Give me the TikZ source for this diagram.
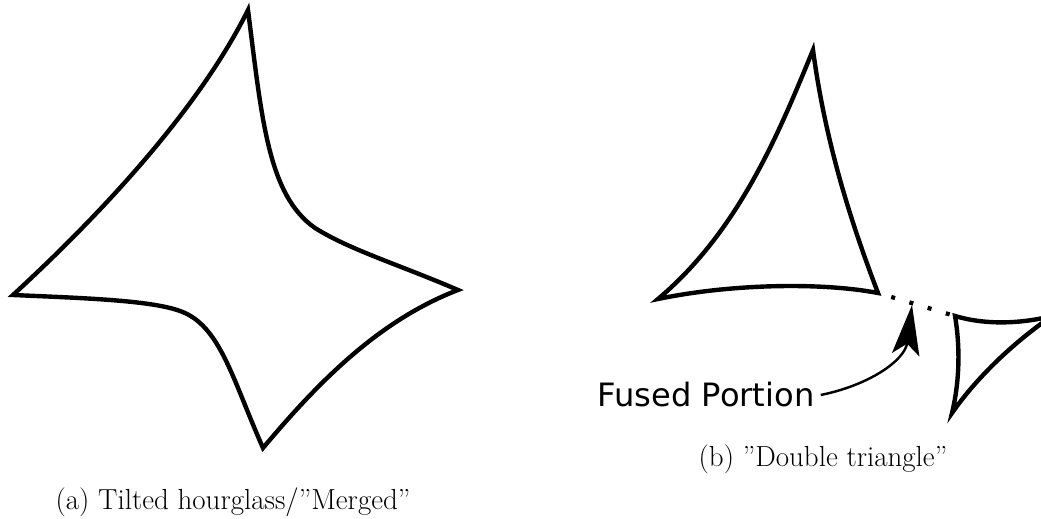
\documentclass[tikz,border=0pt]{standalone}
\usepackage{fontspec}
\usepackage{tikz}
\usetikzlibrary{arrows.meta,positioning}
\newfontfamily\labelfont{DejaVu Sans}
\tikzset{
  outline/.style  = {draw=black, line width=2.5pt, line join=miter},
  fusedots/.style = {draw=black, line width=2.4pt,
                     dash pattern=on 0.08cm off 0.3cm, dash phase=0.104cm},
  pointer/.style  = {draw=black, line width=1.4pt,
                     -{Stealth[length=1cm, width=0.55cm, inset=0.22cm]}},
  capt/.style     = {font=\fontsize{16.5}{20}\selectfont, inner sep=0pt},
  callout/.style  = {font=\labelfont\fontsize{18.3}{22}\selectfont},
}

\begin{document}
\begin{tikzpicture}[x=0.02cm, y=-0.02cm]
  \path[use as bounding box] (0,0) rectangle (1041,519);
  \clip (0,0) rectangle (1041,519);

  % (a) merged shape
  \draw[outline] (248,10) coordinate (hTop)
    .. controls (262,120) and (268,195) .. (315,228)
    .. controls (350,250) and (400,265) .. (458,290) coordinate (hRight)
    .. controls (380,320) and (320,380) .. (263,448) coordinate (hBot)
    .. controls (232,378) and (220,325) .. (180,311)
    .. controls (150,300) and (80,298) .. (13,295) coordinate (hLeft)
    .. controls (76,237) and (192,123) .. cycle;
  \node[capt] (capA) at (233,502) {(a) Tilted hourglass/”Merged”};

  % (b) two triangles
  \draw[outline] (813,50) coordinate (tTop)
    .. controls (780,130) and (740,230) .. (658,299) coordinate (tLeft)
    .. controls (730,284) and (820,282) .. (878,293) coordinate (tRight)
    .. controls (850,220) and (825,140) .. cycle;
  \draw[outline] (955,316) coordinate (sTop)
    .. controls (985,325) and (1020,324) .. (1052,316) coordinate (sRight)
    .. controls (1010,345) and (975,380) .. (952,413) coordinate (sBot)
    .. controls (960,380) and (960,345) .. cycle;
  \draw[fusedots] (tRight) -- (sTop);

  \node[callout] (fused) at (706,395) {Fused Portion};
  \coordinate (fuseTip) at (912,305);
  \draw[pointer] (fused.east) .. controls (870,385) and (905,360) .. (fuseTip);
  \node[capt] (capB) at (823,459) {(b) ”Double triangle”};
\end{tikzpicture}
\end{document}
